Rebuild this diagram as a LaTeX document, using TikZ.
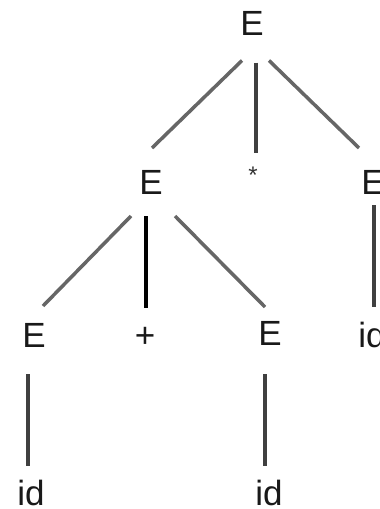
\documentclass[tikz,border=0pt]{standalone}
\usepackage{fontspec}
\setmainfont{Liberation Sans}
\usetikzlibrary{calc}
\begin{document}
\begin{tikzpicture}[x=1pt,y=-1pt,
  lbl/.style={anchor=base,inner sep=0pt,font=\fontsize{35}{40}\selectfont,text=black!90},
  small/.style={anchor=base,inner sep=0pt,font=\fontsize{24}{28}\selectfont,text=black!80},
  edge/.style={line width=3.5pt,draw=black!60},
  vedge/.style={line width=4pt,draw=black!75},
  kedge/.style={line width=4pt,draw=black}]
\useasboundingbox (0,0) rectangle (380,509);
\clip (0,0) rectangle (380,509);
% nodes
\node[lbl] (r)  at (252,35.5) {E};
\node[lbl] (a)  at (151,194) {E};
\node[small] (st) at (253,183) {*};
\node[lbl] (b)  at (373,194) {E};
\node[lbl] (c)  at (34,347) {E};
\node[lbl] (p)  at (145,347) {+};
\node[lbl] (d)  at (270,345) {E};
\node[lbl] (i3) at (372,347) {id};
\node[lbl] (i1) at (31,505) {id};
\node[lbl] (i2) at (269,505) {id};
% connectors
\draw[edge]  ($(r.base)+(-10,25)$) -- ($(a.base)+(1,-46)$);
\draw[vedge] ($(r.base)+(3.5,27)$) -- ($(st.base)+(2.5,-30)$);
\draw[edge]  ($(r.base)+(17,25)$) -- ($(b.base)+(-14,-46)$);
\draw[edge]  ($(a.base)+(-20,22)$) -- ($(c.base)+(9,-41)$);
\draw[kedge] ($(a.base)+(-5,22)$) -- ($(p.base)+(1,-39)$);
\draw[edge]  ($(a.base)+(24,22)$) -- ($(d.base)+(-5,-38)$);
\draw[vedge] ($(b.base)+(1,11)$) -- ($(i3.base)+(2,-40)$);
\draw[vedge] ($(c.base)+(-6,27)$) -- ($(i1.base)+(-3,-39)$);
\draw[vedge] ($(d.base)+(-5,29)$) -- ($(i2.base)+(-4,-39)$);
\end{tikzpicture}
\end{document}
